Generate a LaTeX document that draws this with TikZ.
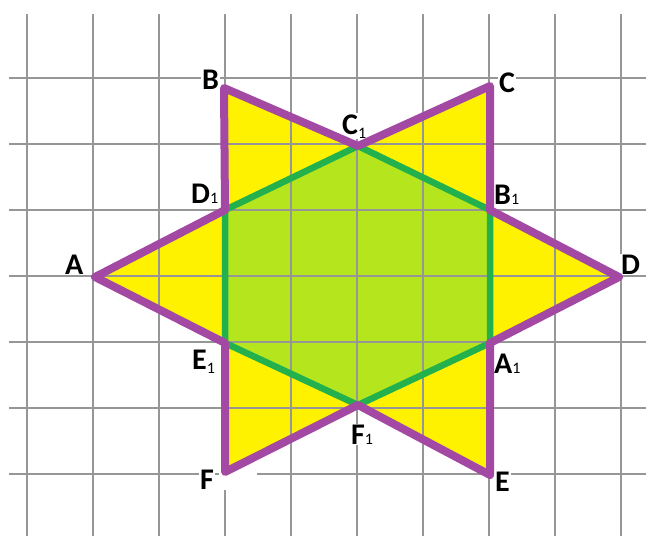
\documentclass[tikz,border=0pt]{standalone}
\usepackage{fontspec}
\setmainfont{Carlito}
\definecolor{starY}{RGB}{255,242,0}
\definecolor{hexG}{RGB}{181,230,29}
\definecolor{edgeG}{RGB}{34,177,76}
\definecolor{edgeP}{RGB}{163,73,164}
\definecolor{gridc}{RGB}{150,150,150}
\newcommand\one{{\fontsize{16}{16}\selectfont\mdseries 1}}
\tikzset{
  gridline/.style={gridc, line width=1.6pt},
  lab/.style={font=\fontsize{30}{30}\selectfont\bfseries, fill=white, inner sep=1pt, anchor=base west, text=black},
  hexedge/.style={edgeG, line width=6.5pt, line join=round},
  staredge/.style={edgeP, line width=8pt, line join=round}
}
\begin{document}
\begin{tikzpicture}[x=1pt,y=-1pt]
\useasboundingbox (0,0) rectangle (646,536);
\coordinate (A) at (95,277);
\coordinate (D) at (619,277);
\coordinate (B) at (224,88);
\coordinate (C) at (490,86);
\coordinate (E) at (490,475);
\coordinate (F) at (225,472);
\coordinate (D1) at (225,210);
\coordinate (C1) at (358,146);
\coordinate (B1) at (490,210);
\coordinate (A1) at (490,343);
\coordinate (F1) at (358,405);
\coordinate (E1) at (225,343);
\fill[starY] (A)--(D1)--(B)--(C1)--(C)--(B1)--(D)--(A1)--(E)--(F1)--(F)--(E1)--cycle;
\fill[hexG] (D1)--(C1)--(B1)--(A1)--(F1)--(E1)--cycle;
\foreach \x in {27,93,159,225,291,357,423,489,555,621}
  \draw[gridline] (\x,14)--(\x,536);
\foreach \y in {78,144,210,276,342,408,474}
  \draw[gridline] (9,\y)--(646,\y);
\fill[white] (219,470) rectangle (257,490);
\node[lab] (lA) at (64,274) {A};
\node[lab] (lB) at (201,89) {B};
\node[lab] (lC) at (498,92) {C};
\node[lab] (lD) at (620,274) {D};
\node[lab] (lE) at (494,491) {E};
\node[lab] (lF) at (199,489) {F};
\node[lab] (lC1) at (341,134) {C\raisebox{-4pt}{\one}};
\node[lab] (lD1) at (190,203) {D\one};
\node[lab] (lB1) at (493,204) {B\one};
\node[lab] (lE1) at (191,369) {E\raisebox{-4pt}{\one}};
\node[lab] (lA1) at (493,373) {A\one};
\node[lab] (lF1) at (350,444) {F\one};
\draw[hexedge] (D1)--(C1)--(B1)--(A1)--(F1)--(E1)--cycle;
\draw[staredge] (A)--(D1)--(B)--(C1)--(C)--(B1)--(D)--(A1)--(E)--(F1)--(F)--(E1)--cycle;
\end{tikzpicture}
\end{document}
